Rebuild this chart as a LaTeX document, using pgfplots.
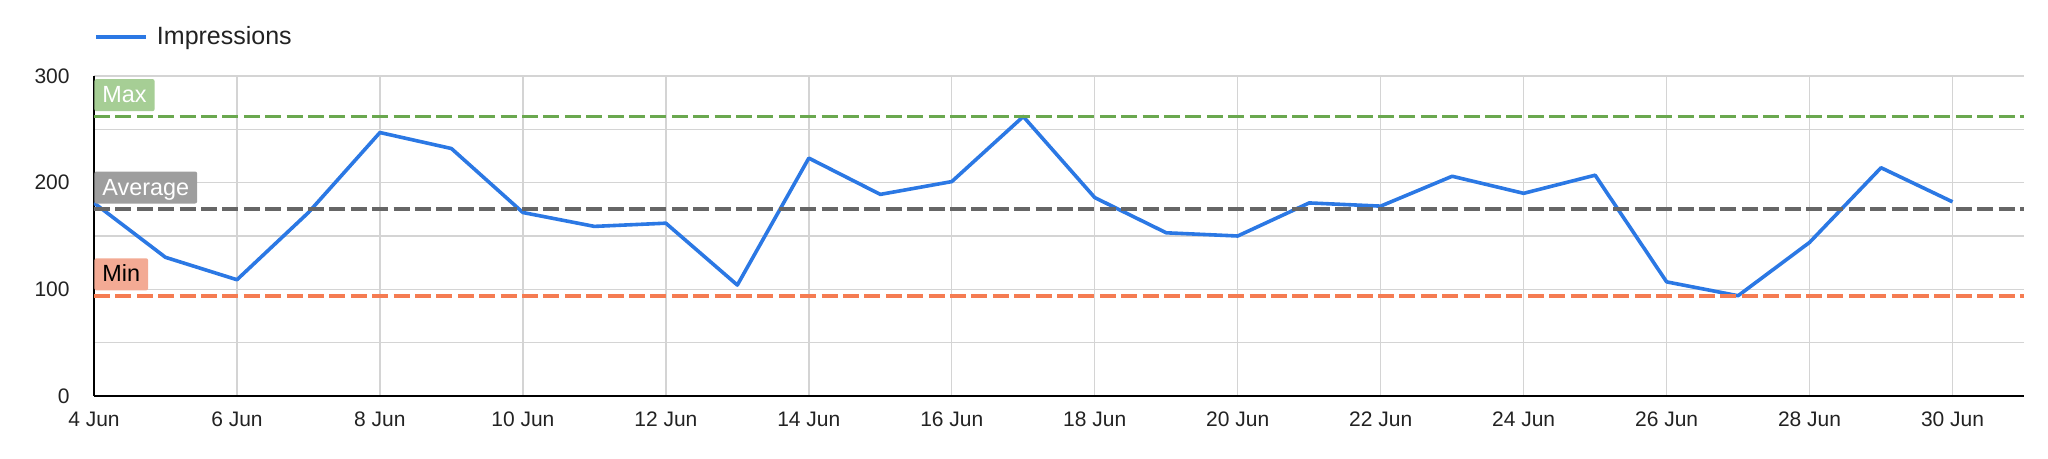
\documentclass[border=0pt]{standalone}
\usepackage{fontspec}
\setmainfont{Liberation Sans}
\usepackage{pgfplots}
\pgfplotsset{compat=1.18}

\definecolor{impblue}{RGB}{43,120,228}
\definecolor{maxline}{RGB}{106,168,79}
\definecolor{avgline}{RGB}{102,102,102}
\definecolor{minline}{RGB}{245,124,82}
\definecolor{maxbox}{RGB}{166,206,149}
\definecolor{avgbox}{RGB}{158,158,158}
\definecolor{minbox}{RGB}{243,170,148}
\definecolor{gridgray}{RGB}{212,212,212}
\definecolor{ticktext}{RGB}{34,34,34}

\begin{document}
\begin{tikzpicture}
\path[use as bounding box] (-47pt,-31.5pt) rectangle (977pt,198pt);
\begin{axis}[
    at={(0,0)}, anchor=south west,
    scale only axis,
    width=965pt, height=160pt,
    xmin=0, xmax=27, ymin=0, ymax=300,
    axis lines*=left,
    axis line style={black, line width=0.8pt},
    xtick={0,2,...,26},
    xticklabels={4 Jun,6 Jun,8 Jun,10 Jun,12 Jun,14 Jun,16 Jun,18 Jun,20 Jun,22 Jun,24 Jun,26 Jun,28 Jun,30 Jun},
    ytick={0,100,200,300},
    minor ytick={50,150,250},
    grid=both,
    major grid style={gridgray, line width=0.7pt},
    minor grid style={gridgray, line width=0.7pt},
    tick style={draw=none},
    /pgf/number format/assume math mode=true,
    tick label style={font=\fontsize{10.5}{12}\selectfont, text=ticktext},
    yticklabel style={anchor=east, inner sep=0pt, xshift=-12pt},
    xticklabel style={anchor=base, inner sep=0pt, yshift=-15.3pt},
    legend style={at={(0,1)}, anchor=west, yshift=19.5pt, draw=none, fill=none,
        inner sep=0pt, font=\fontsize{12.5}{14}\selectfont, text=ticktext,
        nodes={inner sep=0pt},
        /tikz/every odd column/.append style={column sep=4.5pt}},
    legend image code/.code={\draw[#1] (0pt,0pt) -- (25pt,0pt);},
]
\addplot[impblue, line width=1.8pt, line join=round] coordinates {
    (0,181) (1,130) (2,109) (3,172) (4,247) (5,232) (6,172) (7,159) (8,162)
    (9,104) (10,223) (11,189) (12,201) (13,262) (14,186) (15,153) (16,150)
    (17,181) (18,178) (19,206) (20,190) (21,207) (22,107) (23,94) (24,144)
    (25,214) (26,182)};
\addlegendentry{Impressions}
\addplot[maxline, line width=1.9pt, dash pattern=on 8pt off 2.7pt, forget plot] coordinates {(0,262) (27,262)};
\addplot[avgline, line width=1.9pt, dash pattern=on 8pt off 2.7pt, forget plot] coordinates {(0,175.4) (27,175.4)};
\addplot[minline, line width=1.9pt, dash pattern=on 8pt off 2.7pt, forget plot] coordinates {(0,94) (27,94)};
\tikzset{reflabel/.style={anchor=south west, yshift=2.5pt, inner xsep=4pt, inner ysep=0pt,
    text height=11.8pt, text depth=4.2pt, rounded corners=1pt,
    font=\fontsize{11.7}{13}\selectfont}}
\node[reflabel, fill=maxbox, text=white] at (axis cs:0,262) {Max};
\node[reflabel, fill=avgbox, text=white] at (axis cs:0,175.4) {Average};
\node[reflabel, fill=minbox, text=black] at (axis cs:0,94) {Min};
\end{axis}
\end{tikzpicture}
\end{document}
